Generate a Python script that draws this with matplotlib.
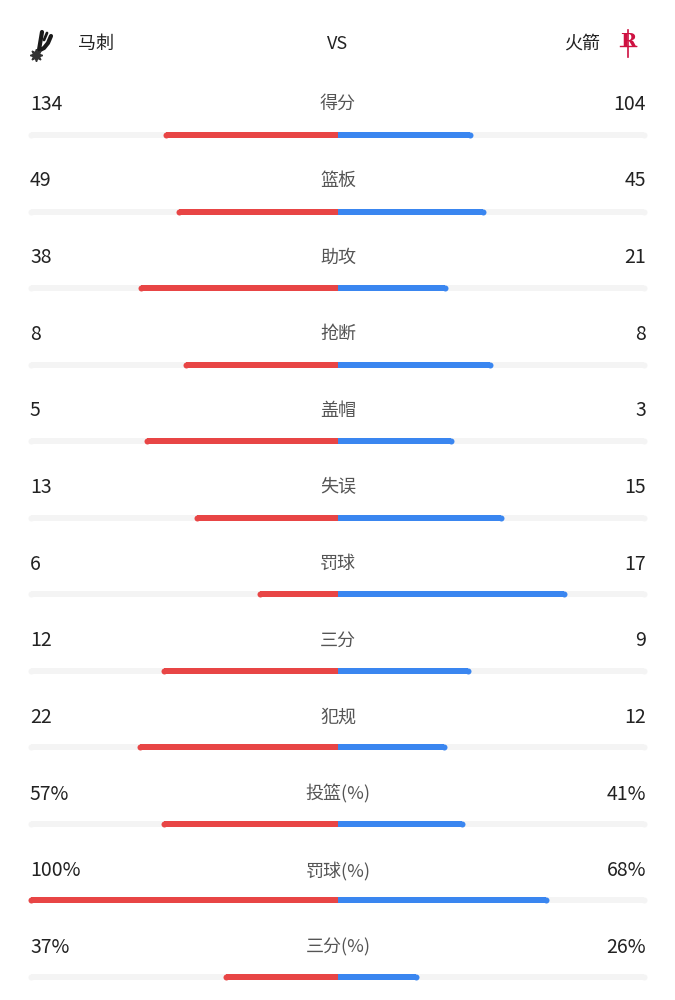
import matplotlib.pyplot as plt

plt.rcParams['font.family'] = ['Noto Sans CJK SC', 'DejaVu Sans']

home_team = "马刺"
away_team = "火箭"
labels = ["得分", "篮板", "助攻", "抢断", "盖帽", "失误", "罚球", "三分", "犯规",
          "投篮(%)", "罚球(%)", "三分(%)"]
home_vals = [134, 49, 38, 8, 5, 13, 6, 12, 22, 57, 100, 37]
away_vals = [104, 45, 21, 8, 3, 15, 17, 9, 12, 41, 68, 26]
is_pct = [False] * 9 + [True] * 3

RED = "#e84545"
BLUE = "#3a86f0"
TRACK = "#f4f4f4"

W, H = 675, 1000
fig = plt.figure(figsize=(W / 100, H / 100), dpi=100)
ax = fig.add_axes([0, 0, 1, 1])
ax.set_xlim(0, W)
ax.set_ylim(H, 0)
ax.axis('off')

cx = 338
x0, x1 = 28, 647
half = cx - x0
bh = 6
cap_ms = bh * 0.72

# header
ax.text(338, 44, "VS", ha='center', va='center', fontsize=13, color='#222222',
        fontweight='light')
ax.text(78, 44, home_team, ha='left', va='center', fontsize=13, color='#222222')
ax.text(600, 44, away_team, ha='right', va='center', fontsize=13, color='#222222')

# spurs logo (rough sketch of the spur)
ax.plot([39, 42], [50, 32], color='#1a1a1a', lw=3, solid_capstyle='round')
ax.plot([40, 44, 48, 51], [50, 48, 43, 36], color='#1a1a1a', lw=3,
        solid_capstyle='round')
ax.plot([44, 47], [40, 33], color='#1a1a1a', lw=2, solid_capstyle='round')
ax.plot([36], [55], marker=(8, 1, 0), color='#333333', ms=9)

# rockets logo (rough)
ax.text(628, 42, "R", ha='center', va='center', fontsize=14, color='#ce1141',
        fontweight='bold', family='DejaVu Serif')
ax.plot([628, 628], [30, 57], color='#ce1141', lw=1.2)
ax.plot([620, 636], [46, 46], color='#ce1141', lw=1.0)

for i, lab in enumerate(labels):
    ty = 104 + 76.7 * i
    by = 135 + 76.5 * i
    hv, av = home_vals[i], away_vals[i]
    if is_pct[i]:
        hs, as_ = f"{hv}%", f"{av}%"
        denom = 100
    else:
        hs, as_ = str(hv), str(av)
        denom = hv + av
    ax.text(30, ty, hs, ha='left', va='center', fontsize=14, color='#222222',
            fontweight='light')
    ax.text(646, ty, as_, ha='right', va='center', fontsize=14, color='#222222',
            fontweight='light')
    ax.text(cx, ty, lab, ha='center', va='center', fontsize=13, color='#555555')

    # track
    r = bh / 2
    ax.barh(by, (x1 - x0) - bh, left=x0 + r, height=bh, color=TRACK, lw=0, zorder=1)
    ax.plot([x0 + r, x1 - r], [by, by], ls='none', marker='o', ms=cap_ms,
            mfc=TRACK, mec='none', zorder=1)

    lh = hv / denom * half
    la = av / denom * half
    ax.barh(by, -(lh - r), left=cx, height=bh, color=RED, lw=0, zorder=2)
    ax.plot([cx - lh + r], [by], ls='none', marker='o', ms=cap_ms, mfc=RED,
            mec='none', zorder=2)
    ax.barh(by, la - r, left=cx, height=bh, color=BLUE, lw=0, zorder=2)
    ax.plot([cx + la - r], [by], ls='none', marker='o', ms=cap_ms, mfc=BLUE,
            mec='none', zorder=2)

fig.savefig("out.png", dpi=100, facecolor='white')
